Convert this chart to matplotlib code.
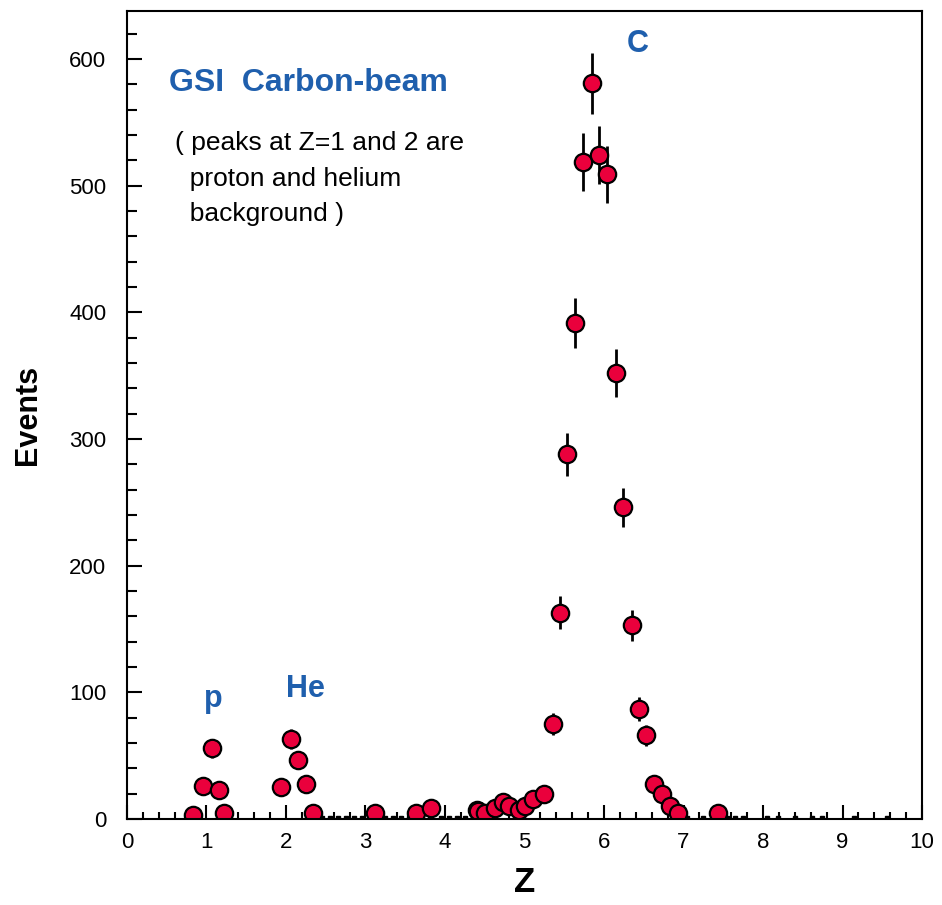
import matplotlib
matplotlib.use("Agg")
import matplotlib.pyplot as plt
from matplotlib.ticker import MultipleLocator

plt.rcParams['font.family'] = ['Liberation Sans', 'DejaVu Sans']

# measured charge spectrum (Z, events, error)
z = [0.83, 0.95, 1.07, 1.16, 1.22,
     1.94, 2.06, 2.15, 2.25, 2.34,
     3.12, 3.64, 3.83, 4.40, 4.42, 4.50, 4.63, 4.73, 4.80, 4.93, 5.00, 5.11, 5.25,
     5.36, 5.45, 5.54, 5.64, 5.74, 5.85, 5.94, 6.04, 6.15, 6.24, 6.35, 6.44, 6.53,
     6.63, 6.73, 6.83, 6.93, 7.43]
events = [3, 26, 56, 23, 4.5,
          25, 63, 47, 28, 4.5,
          4.5, 4.5, 9, 7, 6, 4.5, 8.5, 13.5, 10, 7, 10, 15.5, 19.5,
          75, 163, 288, 392, 519, 581, 524, 509, 352, 246, 153, 87, 66,
          28, 20, 10, 4.5, 4.5]
errors = [1.7, 5, 7.5, 4.8, 2.1,
          5, 8, 6.9, 5.3, 2.1,
          2.1, 2.1, 3, 2.6, 2.4, 2.1, 2.9, 3.7, 3.2, 2.6, 3.2, 3.9, 4.4,
          8.7, 12.8, 17, 19.8, 22.8, 24.1, 22.9, 22.6, 18.8, 15.7, 12.4, 9.3, 8.1,
          5.3, 4.5, 3.2, 2.1, 2.1]

# single-count background bins sitting on the baseline
z_low = [2.45, 2.55, 2.65, 2.75, 2.85, 2.95, 3.25, 3.35, 3.45, 3.55, 3.95, 4.05,
         4.15, 4.25, 4.35, 7.05, 7.25, 7.55, 7.65, 7.75, 8.05, 8.19, 8.40, 8.62,
         8.74, 9.15, 9.56]
events_low = [1, 1, 0.5, 1, 1, 0.5, 1, 0.5, 1, 1, 1, 0.5,
              1, 1, 1, 1, 1, 1, 1, 0.5, 1, 1, 1, 1,
              1, 0.5, 1]

red = '#ea003c'
blue = '#1f5fad'

fig = plt.figure(figsize=(9.42, 9.05), dpi=100)
ax = fig.add_axes([0.1348, 0.095, 0.844, 0.8928])

ax.errorbar(z_low, events_low, yerr=events_low, fmt='s', ms=3, color='black',
            elinewidth=1.8, capsize=0)
ax.errorbar(z, events, yerr=errors, fmt='o', ms=12.5, mfc=red, mec='black',
            mew=1.6, ecolor='black', elinewidth=2, capsize=0)

ax.set_xlim(0, 10)
ax.set_ylim(0, 638)
ax.xaxis.set_major_locator(MultipleLocator(1))
ax.xaxis.set_minor_locator(MultipleLocator(0.2))
ax.yaxis.set_major_locator(MultipleLocator(100))
ax.yaxis.set_minor_locator(MultipleLocator(20))
ax.tick_params(axis='x', which='major', direction='in', length=10, width=1.5,
               labelsize=16, pad=9)
ax.tick_params(axis='x', which='minor', direction='in', length=5, width=1.5)
ax.tick_params(axis='y', which='major', direction='in', length=11, width=1.5,
               labelsize=16, pad=15)
ax.tick_params(axis='y', which='minor', direction='in', length=7, width=1.5)
for s in ax.spines.values():
    s.set_linewidth(1.5)

ax.set_xlabel('Z', fontsize=25, fontweight='bold', labelpad=10)
ax.set_ylabel('Events', fontsize=22, fontweight='bold', labelpad=19)

ax.text(0.53, 581, 'GSI  Carbon-beam', color=blue, fontsize=23,
        fontweight='bold', va='center')
ax.text(0.6, 543, '( peaks at Z=1 and 2 are\n  proton and helium\n  background )',
        fontsize=19, va='top', linespacing=1.6)
ax.text(1.08, 95, 'p', color=blue, fontsize=22, fontweight='bold', ha='center',
        va='center')
ax.text(2.24, 103, 'He', color=blue, fontsize=22, fontweight='bold', ha='center',
        va='center')
ax.text(6.42, 612, 'C', color=blue, fontsize=22, fontweight='bold', ha='center',
        va='center')

fig.savefig('out.png', dpi=100)
